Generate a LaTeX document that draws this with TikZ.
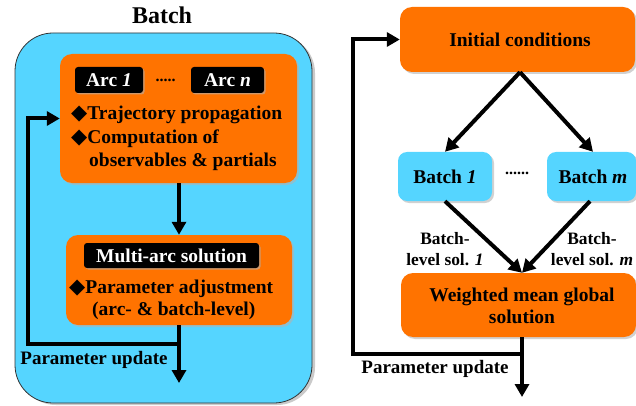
\documentclass[tikz,border=0pt]{standalone}
\usepackage{fontspec}
\setmainfont{Liberation Serif}
\newfontfamily\symfont{DejaVu Sans}
\usetikzlibrary{arrows.meta,shadows}
\definecolor{skyb}{RGB}{85,213,255}
\definecolor{orng}{RGB}{255,115,0}
\newcommand{\dia}{{\fontsize{21}{21}\symfont\char"25C6}}
\begin{document}
\begin{tikzpicture}[x=1pt,y=-1pt,
  every node/.style={font=\bfseries},
  obox/.style={fill=orng,rounded corners=12pt,draw=none,drop shadow={shadow xshift=2pt,shadow yshift=-2pt,fill=black!30,opacity=0.6}},
  bbox/.style={fill=skyb,rounded corners=9pt,draw=none,drop shadow={shadow xshift=2pt,shadow yshift=-2pt,fill=black!30,opacity=0.6}},
  kbox/.style={fill=black,text=white,rounded corners=3pt,inner sep=0pt,drop shadow={shadow xshift=1.5pt,shadow yshift=-1.5pt,fill=black!30,opacity=0.6}},
  arr/.style={line width=4pt,-{Triangle[length=13pt,width=14pt]}},
  big/.style={font=\fontsize{19.5}{22}\selectfont\bfseries},
  mid/.style={font=\fontsize{19}{21}\selectfont\bfseries},
  sml/.style={font=\fontsize{17.4}{21}\selectfont\bfseries},
  dotsty/.style={font=\fontsize{16}{16}\selectfont\bfseries,inner sep=0pt},
]
\useasboundingbox (0,0) rectangle (636,406);
% ---------- left panel ----------
\node[font=\fontsize{24}{26}\selectfont\bfseries] (title) at (162,15) {Batch};
\node[draw=black!80,line width=0.8pt,fill=skyb,rounded corners=38pt,minimum width=297pt,minimum height=370pt,
  drop shadow={shadow xshift=3pt,shadow yshift=-2pt,fill=black!35,opacity=0.6}] (panel) at (163.5,218) {};
\node[obox,minimum width=237pt,minimum height=129pt] (ob1) at (178.5,118.5) {};
\node[kbox,minimum width=68pt,minimum height=26pt,big] (arc1) at (109,80) {Arc \textit{1}};
\node[kbox,minimum width=73pt,minimum height=26pt,big] (arcn) at (227.5,80) {Arc \textit{n}};
\node[dotsty] (dots1) at (165.5,80.5) {.....};
\node[big,anchor=base west,inner sep=0pt] (t1) at (71,120) {\dia Trajectory propagation};
\node[big,anchor=base west,inner sep=0pt] (t2) at (71,143) {\dia Computation of};
\node[big,anchor=base west,inner sep=0pt] (t3) at (89,166) {observables \& partials};
\node[obox,minimum width=226pt,minimum height=90pt] (ob2) at (179,280) {};
\node[kbox,minimum width=175pt,minimum height=25pt,big] (mas) at (171.5,255.5) {Multi-arc solution};
\node[big,anchor=base west,inner sep=0pt] (t4) at (69,293) {\dia Parameter adjustment};
\node[big,anchor=base west,inner sep=0pt] (t5) at (92,315) {(arc- \& batch-level)};
\draw[arr] (ob1.south -| 179,0) -- (ob2.north -| 179,0);
\coordinate (lend) at (179,383);
\coordinate (ljoin) at (179,344);
\coordinate (lcorner) at (28,344);
\draw[arr] (ob2.south -| 179,0) -- (lend);
\draw[arr] (ljoin) -- (lcorner) |- (ob1.west);
\node[mid] (pu1) at (94,360) {Parameter update};
% ---------- right panel ----------
\node[obox,minimum width=235pt,minimum height=65pt] (init) at (517.5,39.5) {};
\node[big] (initt) at (520,40) {Initial conditions};
\node[bbox,minimum width=94pt,minimum height=49pt,big] (b1) at (445,176.5) {Batch \textit{1}};
\node[bbox,minimum width=89pt,minimum height=49pt,big] (bm) at (591.5,176.5) {};
\node[big] (bmt) at (593,176.5) {Batch \textit{m}};
\node[dotsty] (dots2) at (517,173.5) {......};
\node[obox,minimum width=235pt,minimum height=64pt] (wm) at (518.5,305) {};
\node[big,align=center] (wmt) at (522,306) {Weighted mean global\\solution};
\draw[arr] (init.south -| 520,0) -- (b1.north);
\draw[arr] (init.south -| 520,0) -- (bm.north -| 593,0);
\draw[arr] (b1.south) -- (wm.north -| 522,0);
\draw[arr] (bm.south -| 590,0) -- (wm.north -| 522,0);
\node[sml,align=center] (l1) at (445,249) {Batch-\\level sol. \textit{1}};
\node[sml,align=center] (lm) at (592,249) {Batch-\\level sol. \textit{m}};
\coordinate (rend) at (522,397);
\coordinate (rjoin) at (522,354);
\coordinate (rcorner) at (353,354);
\draw[arr] (wm.south -| 522,0) -- (rend);
\draw[arr] (rjoin) -- (rcorner) |- (init.west);
\node[mid] (pu2) at (435,369) {Parameter update};
\end{tikzpicture}
\end{document}
